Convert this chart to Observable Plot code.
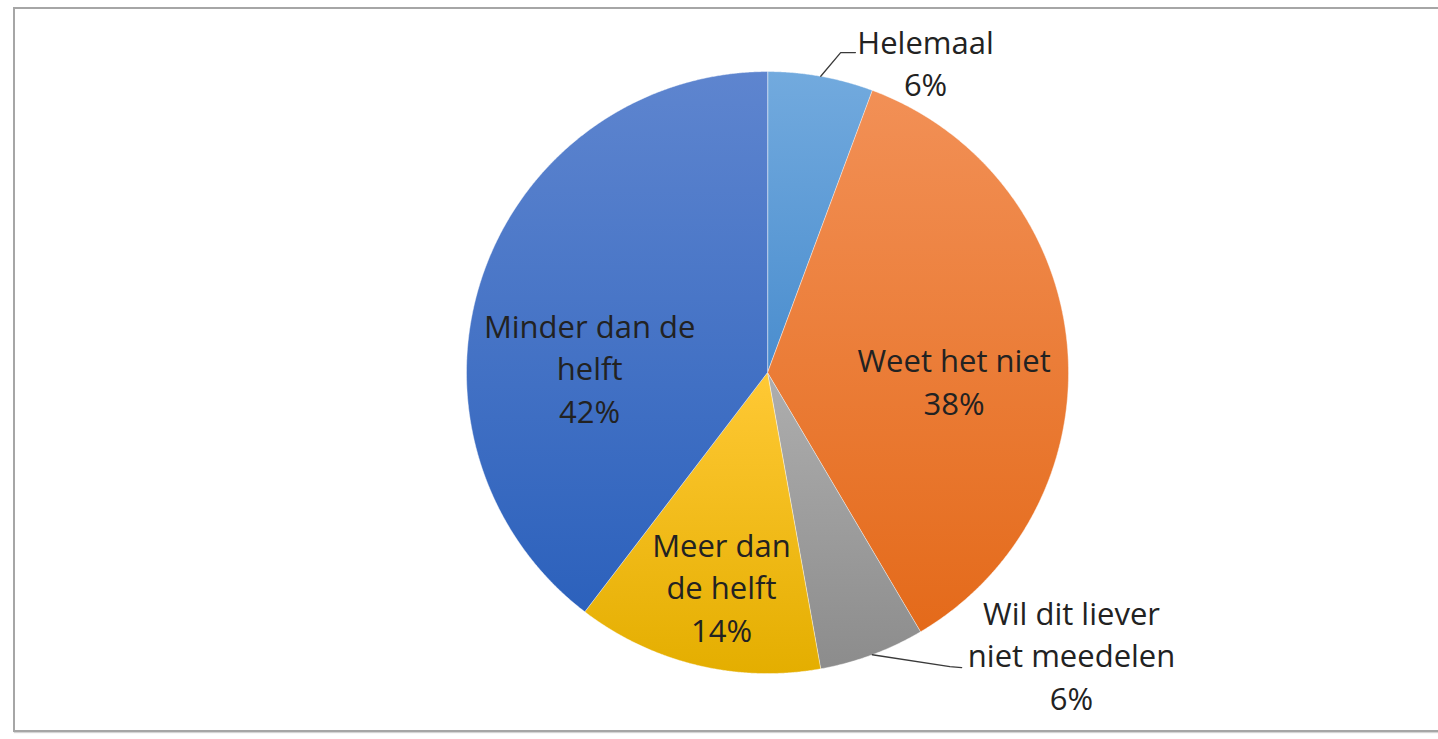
<!DOCTYPE html>
<html>
<head>
<meta charset="utf-8">
<script src="https://cdn.jsdelivr.net/npm/d3@7"></script>
<script src="https://cdn.jsdelivr.net/npm/@observablehq/plot@0.6"></script>
<style>
  html, body { margin: 0; padding: 0; background: #fff; }
  #wrap { position: relative; width: 1438px; height: 739px; overflow: hidden; background: #fff; }
  #frame { position: absolute; left: 13px; top: 7px; width: 1500px; height: 721px;
           border: 2px solid #a6a6a6; box-shadow: 1px 1px 1px #d4d4d4; }
  #chart { position: absolute; left: 0; top: 0; }
</style>
</head>
<body>
<div id="wrap"><div id="frame"></div><div id="chart"></div></div>
<script>
// ---- data ----
const categories = ["Helemaal", "Weet het niet", "Wil dit liever niet meedelen", "Meer dan de helft", "Minder dan de helft"];
const values = [6, 38, 6, 14, 42];
const labelTexts = ["Helemaal", "Weet het niet", "Wil dit liever\nniet meedelen", "Meer dan\nde helft", "Minder dan de\nhelft"];

// ---- styling (gradient per slice: top -> bottom) ----
const topColors = ["#72AADE", "#F29056", "#AEAEAE", "#FFC935", "#5E85CF"];
const bottomColors = ["#4A8DCE", "#E46A1A", "#8C8C8C", "#E4AE00", "#2C61BC"];

// ---- layout (pie units: radius = 1, y downward, centre = 0,0) ----
const viewX = [-2.548, 2.229];
const viewY = [-1.236, 1.219];
const labelAnchors = [[0.525, -1.034], [0.62, 0.024], [1.01, 0.934], [-0.153, 0.708], [-0.591, -0.019]];
const leaderElbows = [[[0.243, -1.063], [0.292, -1.063]], null, [[0.606, 0.977], [0.645, 0.98]], null, null];

const arcs = d3.pie().sort(null).value(d => d)(values);

function ring(a0, a1) {
  const pts = [[0, 0]];
  const n = Math.max(2, Math.ceil((a1 - a0) / 0.004));
  for (let i = 0; i <= n; i++) {
    const a = a0 + (a1 - a0) * i / n;
    pts.push([Math.sin(a), -Math.cos(a)]);
  }
  pts.push([0, 0]);
  return pts;
}

const slices = arcs.map((a, i) => ({
  type: "Feature",
  properties: {i, name: categories[i], value: values[i]},
  geometry: {type: "Polygon", coordinates: [ring(a.startAngle, a.endAngle)]}
}));

const labels = arcs.map((a, i) => ({
  x: labelAnchors[i][0], y: labelAnchors[i][1],
  text: `${labelTexts[i]}\n${values[i]}%`
}));

const leaders = arcs.map((a, i) => {
  if (!leaderElbows[i]) return null;
  const m = (a.startAngle + a.endAngle) / 2;
  return {type: "Feature", properties: {i},
    geometry: {type: "LineString", coordinates: [[Math.sin(m), -Math.cos(m)], ...leaderElbows[i]]}};
}).filter(Boolean);

const domain = {type: "Polygon", coordinates: [[
  [viewX[0], viewY[0]], [viewX[1], viewY[0]], [viewX[1], viewY[1]], [viewX[0], viewY[1]], [viewX[0], viewY[0]]
]]};

const chart = Plot.plot({
  width: 1438,
  height: 739,
  margin: 0,
  projection: {type: "identity", domain},
  color: {type: "identity"},
  style: {background: "transparent", fontFamily: "'Open Sans', sans-serif", overflow: "visible"},
  marks: [
    Plot.geo(slices, {
      fill: d => `url(#slice-grad-${d.properties.i})`,
      stroke: "#ffffff",
      strokeWidth: 0.8,
      strokeOpacity: 0.55
    }),
    Plot.geo(leaders, {stroke: "#3a3a3a", strokeWidth: 1.3, fill: "none"}),
    Plot.text(labels, {
      x: "x", y: "y", text: "text",
      fontSize: 31,
      lineHeight: 1.37,
      fill: "#222222",
      textAnchor: "middle"
    })
  ]
});

const svg = d3.select(chart);
const defs = svg.insert("defs", ":first-child");
values.forEach((v, i) => {
  const g = defs.append("linearGradient")
    .attr("id", `slice-grad-${i}`)
    .attr("x1", 0).attr("y1", 0).attr("x2", 0).attr("y2", 1);
  g.append("stop").attr("offset", "0%").attr("stop-color", topColors[i]);
  g.append("stop").attr("offset", "100%").attr("stop-color", bottomColors[i]);
});

document.getElementById("chart").appendChild(chart);
</script>
</body>
</html>
